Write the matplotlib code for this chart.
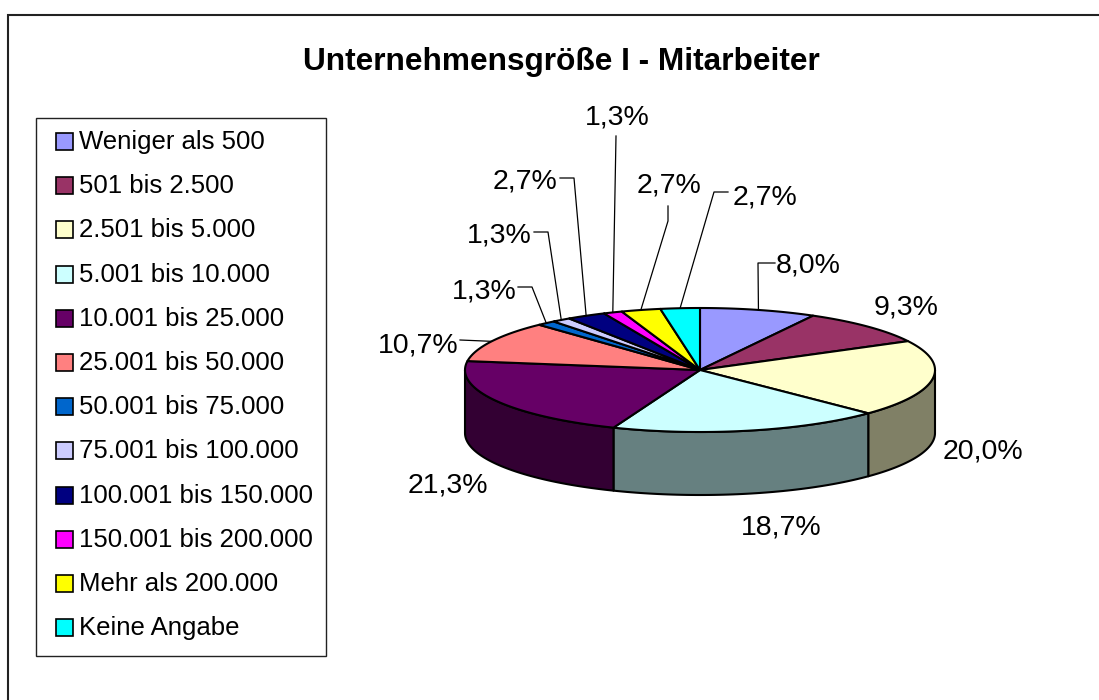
import numpy as np
import matplotlib
matplotlib.use("Agg")
import matplotlib.pyplot as plt
from matplotlib.patches import Polygon, Rectangle

plt.rcParams["font.family"] = ["Liberation Sans", "DejaVu Sans"]

title = "Unternehmensgröße I - Mitarbeiter"
categories = ["Weniger als 500", "501 bis 2.500", "2.501 bis 5.000", "5.001 bis 10.000",
              "10.001 bis 25.000", "25.001 bis 50.000", "50.001 bis 75.000", "75.001 bis 100.000",
              "100.001 bis 150.000", "150.001 bis 200.000", "Mehr als 200.000", "Keine Angabe"]
values = [8.0, 9.3, 20.0, 18.7, 21.3, 10.7, 1.3, 1.3, 2.7, 1.3, 2.7, 2.7]
colors = ["#9999FF", "#993366", "#FFFFCC", "#CCFFFF", "#660066", "#FF8080",
          "#0066CC", "#CCCCFF", "#000080", "#FF00FF", "#FFFF00", "#00FFFF"]

# label centre and where the leader line starts, in pixels
label_pos = [(808, 266), (906, 308), (983, 451), (781, 528), (448, 485), (418, 345),
             (484, 291), (499, 236), (525, 182), (617, 117), (669, 185), (765, 197)]
leader_start = [[(775, 263), (758, 263)], None, None, None, None, [(460, 340)],
                [(518, 287), (532, 287)], [(534, 232), (548, 232)], [(560, 178), (574, 178)],
                [(616, 136)], [(668, 206), (668, 221)], [(728, 192), (714, 192)]]

cx, cy = 700, 370
rx, ry = 235, 62
depth = 63


def rim(a):
    # a is clockwise from 12 o'clock, radians
    return cx + rx * np.sin(a), cy - ry * np.cos(a)


def label_text(v):
    return ("%.1f%%" % v).replace(".", ",")


fig = plt.figure(figsize=(10.99, 7.0), dpi=100)
ax = fig.add_axes([0, 0, 1, 1])
ax.set_xlim(0, 1099)
ax.set_ylim(700, 0)
ax.axis("off")

# outer frame, only top and left are inside the picture
ax.plot([8, 8, 1099], [700, 15, 15], color="#222222", lw=1.5, solid_joinstyle="miter")

ax.text(561, 62, title, fontsize=22.8, fontweight="bold", ha="center", va="center", color="black")

# legend
ax.add_patch(Rectangle((36, 118), 290, 538, fc="white", ec="#222222", lw=1))
for i, name in enumerate(categories):
    y = 141 + i * 44.2
    ax.add_patch(Rectangle((56, y - 8), 17, 17, fc=colors[i], ec="black", lw=1.2))
    ax.text(79, y + 1, name, fontsize=18.5, ha="left", va="center", color="black")

# pie
edges = np.cumsum([0] + values) / sum(values) * 2 * np.pi

# side walls, front half only
for i in range(len(values)):
    a0 = max(edges[i], np.pi / 2)
    a1 = min(edges[i + 1], 3 * np.pi / 2)
    if a1 <= a0:
        continue
    t = np.linspace(a0, a1, 60)
    x, y = rim(t)
    pts = np.r_[np.c_[x, y], np.c_[x, y + depth][::-1]]
    dark = tuple(c * 0.5 for c in matplotlib.colors.to_rgb(colors[i]))
    ax.add_patch(Polygon(pts, closed=True, fc=dark, ec="black", lw=1.5, joinstyle="round"))

# top faces
for i in range(len(values)):
    t = np.linspace(edges[i], edges[i + 1], 80)
    x, y = rim(t)
    pts = np.r_[[(cx, cy)], np.c_[x, y]]
    ax.add_patch(Polygon(pts, closed=True, fc=colors[i], ec="black", lw=1.5, joinstyle="round"))

# data labels and leaders
mids = (edges[:-1] + edges[1:]) / 2
for i, v in enumerate(values):
    ax.text(label_pos[i][0], label_pos[i][1], label_text(v), fontsize=20.5,
            ha="center", va="center", color="black")
    if leader_start[i] is not None:
        px, py = rim(mids[i])
        line = leader_start[i] + [(px, py)]
        ax.plot([p[0] for p in line], [p[1] for p in line], color="black", lw=0.9)

fig.savefig("out.png", dpi=100, facecolor="white")
